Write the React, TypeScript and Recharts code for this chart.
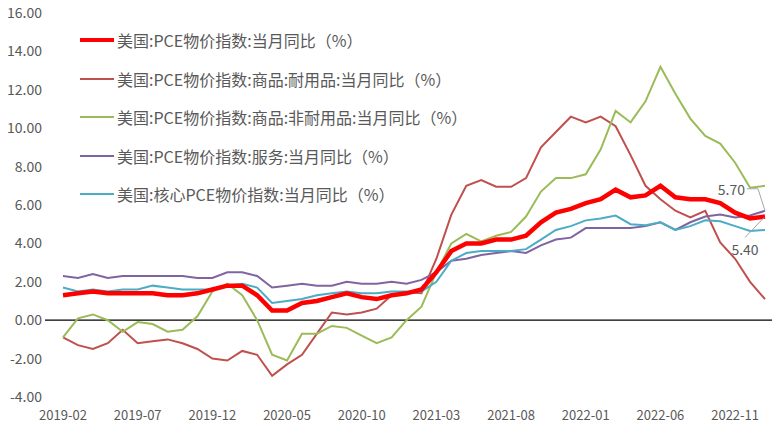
import React from "react";
import { LineChart, Line, XAxis, YAxis, ReferenceLine } from "recharts";

const months = [
  "2019-02","2019-03","2019-04","2019-05","2019-06","2019-07","2019-08","2019-09","2019-10","2019-11","2019-12",
  "2020-01","2020-02","2020-03","2020-04","2020-05","2020-06","2020-07","2020-08","2020-09","2020-10","2020-11","2020-12",
  "2021-01","2021-02","2021-03","2021-04","2021-05","2021-06","2021-07","2021-08","2021-09","2021-10","2021-11","2021-12",
  "2022-01","2022-02","2022-03","2022-04","2022-05","2022-06","2022-07","2022-08","2022-09","2022-10","2022-11","2022-12",
  "2023-01",
];

const pce = [
  1.3,1.4,1.5,1.4,1.4,1.4,1.4,1.3,1.3,1.4,1.6,
  1.8,1.8,1.3,0.5,0.5,0.9,1.0,1.2,1.4,1.2,1.1,1.3,
  1.4,1.6,2.5,3.6,4.0,4.0,4.2,4.2,4.4,5.1,5.6,5.8,
  6.1,6.3,6.8,6.4,6.5,7.0,6.4,6.3,6.3,6.1,5.6,5.3,
  5.4,
];

const durable = [
  -0.9,-1.3,-1.5,-1.2,-0.5,-1.2,-1.1,-1.0,-1.2,-1.5,-2.0,
  -2.1,-1.6,-1.8,-2.9,-2.3,-1.8,-0.7,0.4,0.3,0.4,0.6,1.3,
  1.45,1.4,3.2,5.5,7.0,7.3,6.95,6.95,7.4,9.0,9.8,10.6,
  10.3,10.6,10.1,8.6,7.0,6.3,5.7,5.35,5.7,4.05,3.2,2.0,
  1.1,
];

const nondurable = [
  -0.9,0.1,0.3,0.0,-0.6,-0.1,-0.2,-0.6,-0.5,0.2,1.5,
  1.9,1.3,0.0,-1.8,-2.1,-0.7,-0.7,-0.3,-0.4,-0.8,-1.2,-0.9,
  0.0,0.7,2.5,4.0,4.5,4.1,4.4,4.6,5.4,6.7,7.4,7.4,
  7.6,8.9,10.9,10.3,11.4,13.2,11.8,10.5,9.6,9.2,8.2,6.9,
  7.0,
];

const services = [
  2.3,2.2,2.4,2.2,2.3,2.3,2.3,2.3,2.3,2.2,2.2,
  2.5,2.5,2.3,1.7,1.8,1.9,1.8,1.8,2.0,1.9,1.9,2.0,
  1.9,2.1,2.5,3.1,3.2,3.4,3.5,3.6,3.5,3.9,4.2,4.3,
  4.8,4.8,4.8,4.8,4.9,5.1,4.7,5.1,5.4,5.5,5.35,5.45,
  5.7,
];

const core = [
  1.7,1.5,1.6,1.5,1.6,1.6,1.8,1.7,1.6,1.6,1.6,
  1.8,1.9,1.7,0.9,1.0,1.1,1.3,1.4,1.5,1.4,1.4,1.5,
  1.5,1.5,2.0,3.1,3.5,3.6,3.6,3.6,3.7,4.2,4.7,4.9,
  5.2,5.3,5.45,5.0,4.95,5.1,4.7,4.9,5.2,5.15,4.9,4.65,
  4.7,
];

const yTicks = [-4, -2, 0, 2, 4, 6, 8, 10, 12, 14, 16];

const seriesNames = [
  "美国:PCE物价指数:当月同比（%）",
  "美国:PCE物价指数:商品:耐用品:当月同比（%）",
  "美国:PCE物价指数:商品:非耐用品:当月同比（%）",
  "美国:PCE物价指数:服务:当月同比（%）",
  "美国:核心PCE物价指数:当月同比（%）",
];

const seriesKeys = ["pce", "durable", "nondurable", "services", "core"];
const seriesColors = ["#FF0000", "#C0504D", "#9BBB59", "#8064A2", "#4BACC6"];
const seriesWidths = [4.5, 2, 2, 2, 2];

const data = months.map((m, i) => ({
  month: m,
  pce: pce[i],
  durable: durable[i],
  nondurable: nondurable[i],
  services: services[i],
  core: core[i],
}));

const FONT = "'Microsoft YaHei', 'Noto Sans CJK SC', sans-serif";
const TEXT_COLOR = "#595959";

const lastIndex = months.length - 1;

const ServicesLabel = (props: any) => {
  const { x, y, index, value } = props;
  if (index !== lastIndex) return <g />;
  return (
    <g>
      <polyline
        points={`${x - 18},${y - 22} ${x - 7},${y - 22} ${x},${y}`}
        fill="none"
        stroke="#A6A6A6"
        strokeWidth={1}
      />
      <text x={x - 20} y={y - 16} textAnchor="end" fontSize={14} fill={TEXT_COLOR} fontFamily={FONT}>
        {Number(value).toFixed(2)}
      </text>
    </g>
  );
};

const PceLabel = (props: any) => {
  const { x, y, index, value } = props;
  if (index !== lastIndex) return <g />;
  return (
    <g>
      <polyline
        points={`${x - 20},${y + 21} ${x - 1},${y + 1}`}
        fill="none"
        stroke="#A6A6A6"
        strokeWidth={1}
      />
      <text x={x - 20} y={y + 38} textAnchor="middle" fontSize={14} fill={TEXT_COLOR} fontFamily={FONT}>
        {Number(value).toFixed(2)}
      </text>
    </g>
  );
};

const LegendBox = () => (
  <div style={{ position: "absolute", left: 80, top: 21, fontFamily: FONT, pointerEvents: "none" }}>
    {seriesNames.map((name, i) => (
      <div key={name} style={{ display: "flex", alignItems: "center", height: 38.5 }}>
        <div
          style={{
            width: 34,
            height: seriesWidths[i] > 3 ? 4 : 2,
            background: seriesColors[i],
            marginRight: 3,
          }}
        />
        <span style={{ fontSize: 16, color: TEXT_COLOR, whiteSpace: "nowrap" }}>{name}</span>
      </div>
    ))}
  </div>
);

export default function App() {
  return (
    <div style={{ position: "absolute", left: 0, top: 0, width: 775, height: 432, background: "#fff" }}>
      <LineChart
        width={775}
        height={432}
        data={data}
        margin={{ top: 13, right: 3, left: 0, bottom: 0 }}
      >
        <XAxis
          dataKey="month"
          interval={4}
          axisLine={false}
          tickLine={false}
          tickSize={0}
          tickMargin={14}
          height={35}
          padding={{ left: 18, right: 7 }}
          tick={{ fontSize: 13, fill: TEXT_COLOR, fontFamily: FONT }}
        />
        <YAxis
          domain={[-4, 16]}
          ticks={yTicks}
          width={45}
          axisLine={false}
          tickLine={false}
          tickSize={0}
          tickMargin={3}
          tickFormatter={(v: number) => v.toFixed(2)}
          tick={{ fontSize: 14, fill: TEXT_COLOR, fontFamily: FONT }}
        />
        <ReferenceLine y={0} stroke="#000" strokeWidth={1.3} />
        {seriesKeys.map((k, i) =>
          k === "pce" ? null : (
            <Line
              key={k}
              type="linear"
              dataKey={k}
              name={seriesNames[i]}
              stroke={seriesColors[i]}
              strokeWidth={seriesWidths[i]}
              dot={false}
              activeDot={false}
              isAnimationActive={false}
              label={k === "services" ? ServicesLabel : undefined}
            />
          )
        )}
        <Line
          type="linear"
          dataKey="pce"
          name={seriesNames[0]}
          stroke={seriesColors[0]}
          strokeWidth={seriesWidths[0]}
          dot={false}
          activeDot={false}
          isAnimationActive={false}
          label={PceLabel}
        />
      </LineChart>
      <LegendBox />
    </div>
  );
}
